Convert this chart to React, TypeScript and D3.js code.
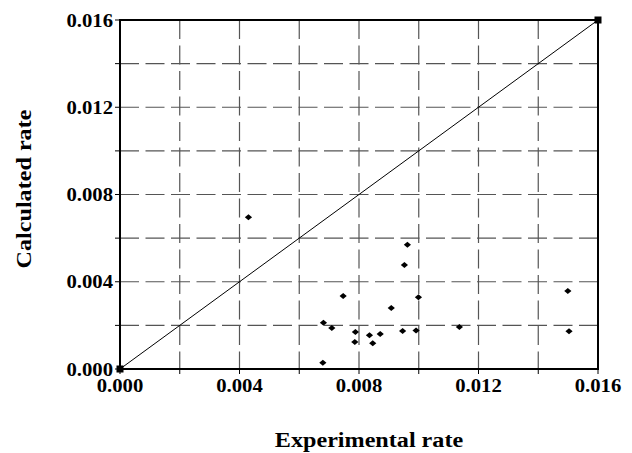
import React from 'react';
import * as d3 from 'd3';

// experimental rate (x) vs calculated rate (y)
const experimental = [
  0.0043, 0.00962, 0.00952, 0.00747, 0.00908, 0.00999, 0.00681, 0.00709,
  0.00788, 0.00786, 0.00835, 0.00846, 0.00871, 0.00946, 0.00991, 0.00679,
  0.01136, 0.01499, 0.01503,
];
const calculated = [
  0.00696, 0.0057, 0.00477, 0.00335, 0.0028, 0.00329, 0.00212, 0.00188,
  0.0017, 0.00124, 0.00155, 0.00118, 0.0016, 0.00174, 0.00176, 0.00029,
  0.00193, 0.00358, 0.00173,
];
const identityEnds = [0, 0.016];
const gridValues = [0.002, 0.004, 0.006, 0.008, 0.01, 0.012, 0.014];
const tickValues = [0, 0.002, 0.004, 0.006, 0.008, 0.01, 0.012, 0.014, 0.016];
const labelValues = [0, 0.004, 0.008, 0.012, 0.016];

const W = 632;
const H = 453;
const m = {left: 120, right: 34, top: 20, bottom: 84};
const FONT = '"Liberation Serif", "Times New Roman", serif';
const STRETCH = 1.15;

export default function App() {
  const x = d3.scaleLinear().domain([0, 0.016]).range([m.left, W - m.right]);
  const y = d3.scaleLinear().domain([0, 0.016]).range([H - m.bottom, m.top]);
  const fmt = d3.format('.3f');

  const pts = experimental.map((e, i) => [e, calculated[i]]);
  const diag = d3.line<number>().x(d => x(d)).y(d => y(d))(identityEnds);

  const diamond = (cx: number, cy: number) =>
    `M${cx - 3.6},${cy}L${cx},${cy - 3}L${cx + 3.6},${cy}L${cx},${cy + 3}Z`;

  return (
    <svg width={W} height={H} style={{position: 'absolute', left: 0, top: 0, background: '#fff'}}>
      {/* grid */}
      <g stroke="#555" strokeWidth={1.2} strokeDasharray="19 6.5" fill="none">
        {gridValues.map(v => (
          <line key={'h' + v} x1={x(0)} x2={x(0.016)} y1={y(v)} y2={y(v)} />
        ))}
        {gridValues.map(v => (
          <line key={'v' + v} x1={x(v)} x2={x(v)} y1={y(0.016)} y2={y(0)} />
        ))}
      </g>

      {/* ticks */}
      <g stroke="#000" strokeWidth={1}>
        {tickValues.map(v => (
          <line key={'ty' + v} x1={x(0) - 5} x2={x(0)} y1={y(v)} y2={y(v)} />
        ))}
        {tickValues.map(v => (
          <line key={'tx' + v} x1={x(v)} x2={x(v)} y1={y(0)} y2={y(0) + 5} />
        ))}
      </g>

      {/* frame */}
      <rect x={x(0)} y={y(0.016)} width={x(0.016) - x(0)} height={y(0) - y(0.016)}
        fill="none" stroke="#000" strokeWidth={2} />

      {/* identity line */}
      <path d={diag || ''} stroke="#000" strokeWidth={1} fill="none" />
      {identityEnds.map(v => (
        <rect key={'sq' + v} x={x(v) - 3.5} y={y(v) - 3.5} width={7} height={7} fill="#000" />
      ))}

      {/* points */}
      {pts.map((p, i) => (
        <path key={i} d={diamond(x(p[0]), y(p[1]))} fill="#000" />
      ))}

      {/* tick labels */}
      <g fontFamily={FONT} fontWeight="bold" fontSize={18} fill="#000">
        {labelValues.map(v => (
          <text key={'ly' + v} textAnchor="end"
            transform={`translate(${x(0) - 7},${y(v) + 6.5}) scale(${STRETCH},1)`}>{fmt(v)}</text>
        ))}
        {labelValues.map(v => (
          <text key={'lx' + v} textAnchor="middle"
            transform={`translate(${x(v)},${y(0) + 23}) scale(${STRETCH},1)`}>{fmt(v)}</text>
        ))}
      </g>

      {/* axis titles */}
      <g fontFamily={FONT} fontWeight="bold" fontSize={21} fill="#000">
        <text textAnchor="middle" transform={`translate(369,447) scale(${STRETCH},1)`}>
          Experimental rate
        </text>
        <text textAnchor="middle" transform={`translate(31,189) rotate(-90) scale(${STRETCH},1)`}>
          Calculated rate
        </text>
      </g>
    </svg>
  );
}
